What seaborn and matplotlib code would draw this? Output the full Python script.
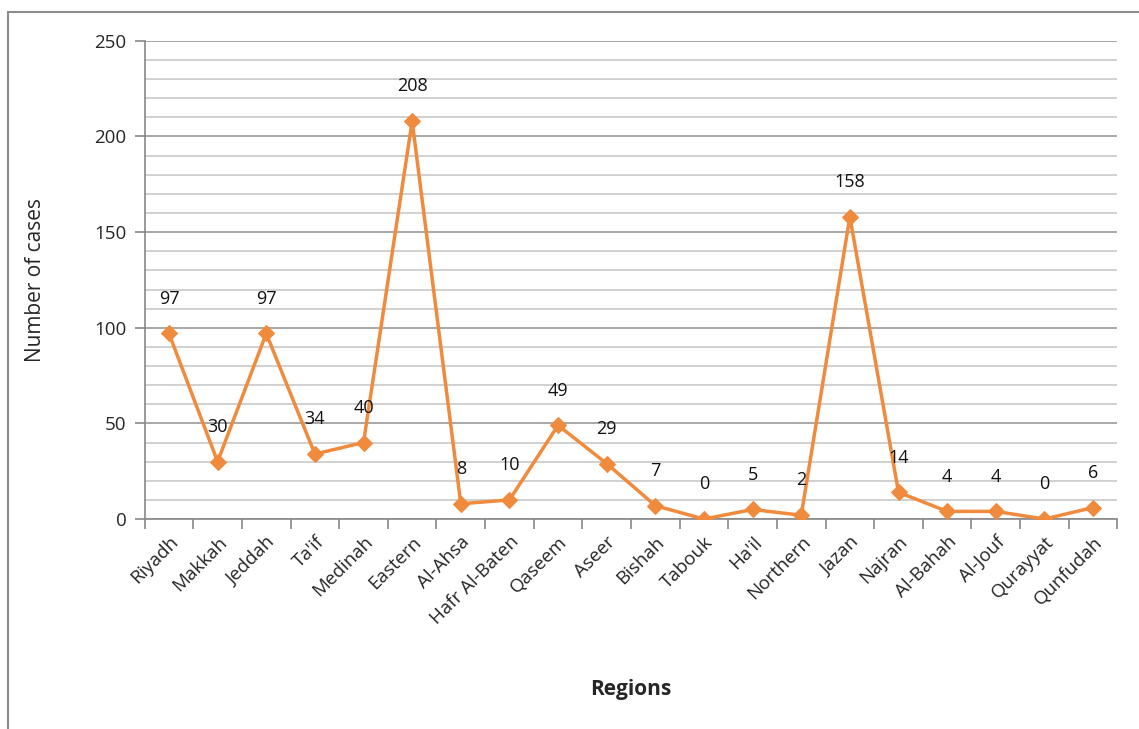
import matplotlib
matplotlib.use("Agg")
import matplotlib.pyplot as plt
import seaborn as sns
import pandas as pd
from matplotlib.patches import Rectangle
from matplotlib.ticker import MultipleLocator, FixedLocator

regions = ["Riyadh", "Makkah", "Jeddah", "Ta'if", "Medinah", "Eastern", "Al-Ahsa",
           "Hafr Al-Baten", "Qaseem", "Aseer", "Bishah", "Tabouk", "Ha'il", "Northern",
           "Jazan", "Najran", "Al-Bahah", "Al-Jouf", "Qurayyat", "Qunfudah"]
cases = [97, 30, 97, 34, 40, 208, 8, 10, 49, 29, 7, 0, 5, 2, 158, 14, 4, 4, 0, 6]
y_ticks = [0, 50, 100, 150, 200, 250]

sns.set_theme(style="white")
plt.rcParams['font.family'] = ['Open Sans', 'DejaVu Sans']

orange = "#F08A3C"
df = pd.DataFrame({"idx": range(len(regions)), "cases": cases})

fig = plt.figure(figsize=(11.39, 7.29), dpi=100)
ax = fig.add_axes([0.127, 0.288, 0.854, 0.656])

sns.lineplot(data=df, x="idx", y="cases", ax=ax, color=orange, linewidth=2.5,
             marker="D", markersize=8, markeredgecolor=orange, zorder=3)

for i, v in enumerate(cases):
    ax.annotate(str(v), (i, v), xytext=(0, 25), textcoords="offset points",
                ha="center", va="center", fontsize=13, color="#111111", zorder=4)

ax.set_xlim(-0.5, len(regions) - 0.5)
ax.set_ylim(0, 250)
ax.set_xticks(range(len(regions)))
ax.set_xticklabels(regions, rotation=45, ha="right", va="top", rotation_mode="anchor",
                   fontsize=13.5)
ax.xaxis.set_minor_locator(FixedLocator([i - 0.5 for i in range(len(regions) + 1)]))
ax.tick_params(axis="x", which="major", length=0, pad=10)
ax.tick_params(axis="x", which="minor", length=7, width=1.2, color="#888888", bottom=True)

ax.set_yticks(y_ticks)
ax.set_yticklabels([str(t) for t in y_ticks], fontsize=13.5)
ax.yaxis.set_minor_locator(MultipleLocator(10))
ax.tick_params(axis="y", which="major", length=7, width=1.2, color="#888888", left=True, pad=6)
ax.tick_params(axis="y", which="minor", length=0)

ax.grid(True, which="major", axis="y", color="#9a9a9a", linewidth=1.2, zorder=0)
ax.grid(True, which="minor", axis="y", color="#c8c8c8", linewidth=1.2, zorder=0)
ax.grid(False, axis="x", which="both")
ax.set_axisbelow(True)

for s in ["top", "right"]:
    ax.spines[s].set_visible(False)
for s in ["left", "bottom"]:
    ax.spines[s].set_color("#888888")
    ax.spines[s].set_linewidth(1.2)

ax.set_xlabel("Regions", fontsize=15, fontweight="bold")
ax.set_ylabel("Number of cases", fontsize=15)
ax.xaxis.set_label_coords(0.50, -0.335)
ax.yaxis.set_label_coords(-0.101, 0.5)

fig.patches.append(Rectangle((0.007, -0.01), 1.1, 0.993, transform=fig.transFigure,
                             fill=False, edgecolor="#8c8c8c", linewidth=1.5))

fig.savefig("out.png", dpi=100, facecolor="white")
